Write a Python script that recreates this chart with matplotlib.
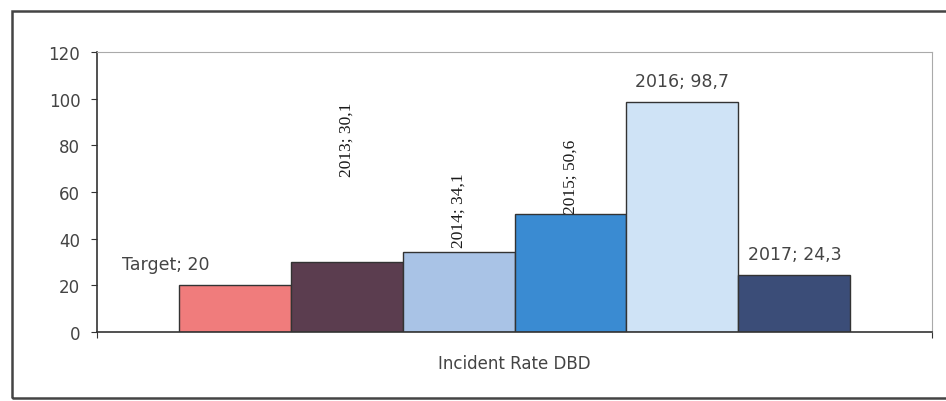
import numpy as np
import matplotlib.pyplot as plt
from matplotlib.patches import Rectangle

# data
categories = ['Target', '2013', '2014', '2015', '2016', '2017']
values = [20, 30.1, 34.1, 50.6, 98.7, 24.3]
value_texts = ['20', '30,1', '34,1', '50,6', '98,7', '24,3']
colors = ['#f07c7c', '#5b3d4f', '#a9c3e6', '#3a8bd2', '#cfe3f6', '#3b4d78']

fig = plt.figure(figsize=(9.46, 4.02), dpi=100)

# outer frame of the pasted chart
fig.patches.append(Rectangle((12 / 946, 3 / 402), 1.0, 387 / 402, transform=fig.transFigure,
                             fill=False, edgecolor='#444444', linewidth=1.8))

ax = fig.add_axes([97 / 946, 1 - 333 / 402, (932 - 97) / 946, (333 - 53) / 402])

x = np.arange(len(values))
ax.bar(x, values, width=1.0, color=colors, edgecolor='#333333', linewidth=1.0)

ax.set_xlim(-1.23, 6.23)
ax.set_ylim(0, 120)
ax.set_yticks(np.arange(0, 121, 20))
ax.set_xticks([-1.23, 6.23])
ax.set_xticklabels(['', ''])
ax.tick_params(axis='both', direction='out', length=4, colors='#333333', labelcolor='#444444',
               labelsize=12, pad=8)

for s in ['top', 'right']:
    ax.spines[s].set_color('#aaaaaa')
    ax.spines[s].set_linewidth(0.8)
for s in ['left', 'bottom']:
    ax.spines[s].set_color('#333333')
    ax.spines[s].set_linewidth(1.2)

ax.set_xlabel('Incident Rate DBD', fontsize=12, color='#444444', labelpad=4)

# data labels, styled like the original (some rotated, serif)
for i in range(len(values)):
    label = categories[i] + '; ' + value_texts[i]
    if i in (1, 2, 3):
        lift = {1: 83, 2: 52.5, 3: 67}[i]
        ax.text(x[i], lift, label, rotation=90, ha='center', va='center',
                fontsize=12.5, family='Liberation Serif', color='#1a1a1a')
    else:
        dx = -69 if i == 0 else 0
        ax.annotate(label, (x[i], values[i]), xytext=(dx, 12), textcoords='offset pixels',
                    ha='center', va='bottom', fontsize=12.5, color='#444444')

fig.savefig('out.png', dpi=100)
